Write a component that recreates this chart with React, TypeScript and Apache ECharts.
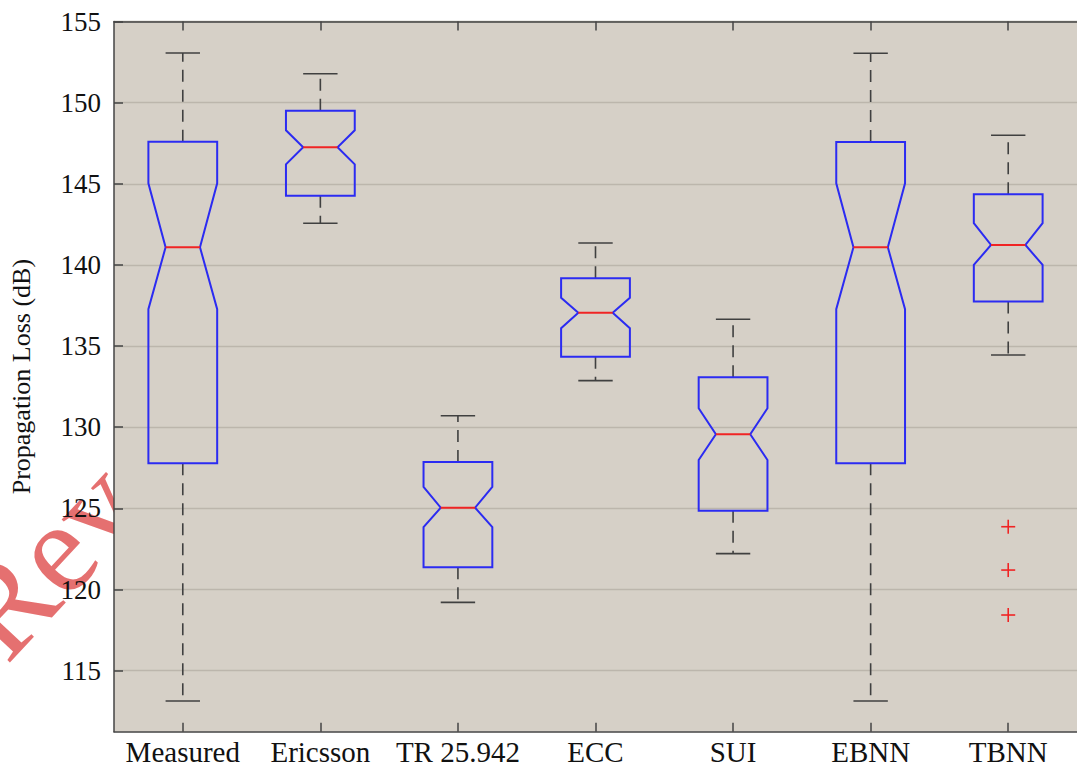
import React, { useEffect, useRef } from "react";
import * as echarts from "echarts";

const categories = ["Measured", "Ericsson", "TR 25.942", "ECC", "SUI", "EBNN", "TBNN"];
const lowerWhisker = [113.13, 142.57, 119.21, 132.87, 122.21, 113.13, 134.45];
const q1 = [127.78, 144.27, 121.37, 134.35, 124.86, 127.78, 137.74];
const notchLow = [137.27, 146.2, 123.84, 136.1, 127.98, 137.27, 140.0];
const median = [141.09, 147.25, 125.04, 137.06, 129.57, 141.09, 141.23];
const notchHigh = [145.03, 148.3, 126.32, 137.98, 131.17, 145.03, 142.57];
const q3 = [147.59, 149.5, 127.86, 139.18, 133.08, 147.58, 144.35];
const upperWhisker = [153.06, 151.78, 130.71, 141.35, 136.65, 153.04, 147.99];
const outlierCategory = ["TBNN", "TBNN", "TBNN"];
const outlierValues = [123.87, 121.2, 118.43];
const yTicks = [115, 120, 125, 130, 135, 140, 145, 150, 155];
const yMin = 111.24;
const yMax = 155;

const FONT = '"Liberation Serif", "Times New Roman", serif';
const BLUE = "#2b2bf2";
const RED = "#f02424";
const WHISKER = "#404040";
const AXIS = "#444444";

export default function App() {
  const ref = useRef<HTMLDivElement>(null);
  useEffect(() => {
    if (!ref.current) return;
    const chart = echarts.init(ref.current, undefined, { renderer: "svg" });
    const boxData = categories.map((_, i) => [
      i,
      lowerWhisker[i],
      q1[i],
      notchLow[i],
      median[i],
      notchHigh[i],
      q3[i],
      upperWhisker[i],
    ]);
    const outData = outlierCategory.map((c, k) => [categories.indexOf(c), outlierValues[k]]);

    const option: any = {
      animation: false,
      backgroundColor: "#ffffff",
      graphic: [
        {
          type: "text",
          z: -10,
          x: 22,
          y: 680,
          rotation: (47 * Math.PI) / 180,
          style: {
            text: "Rev",
            font: `130px ${FONT}`,
            fill: "rgba(226,96,96,0.9)",
            verticalAlign: "bottom",
          },
        },
      ],
      grid: {
        left: 113,
        top: 21.5,
        width: 971.6,
        height: 710.2,
        show: true,
        backgroundColor: "#d6d0c7",
        borderWidth: 0,
      },
      xAxis: [
        {
          type: "category",
          data: categories,
          position: "bottom",
          boundaryGap: true,
          axisLine: { show: true, lineStyle: { color: AXIS, width: 1.5 } },
          axisTick: { show: true, inside: true, length: 9, alignWithLabel: true, interval: 0, lineStyle: { color: AXIS, width: 1.5 } },
          axisLabel: { show: true, interval: 0, fontFamily: FONT, fontSize: 29, color: "#111", margin: 6 },
          splitLine: { show: false },
        },
        {
          type: "category",
          data: categories,
          position: "top",
          boundaryGap: true,
          axisLine: { show: true, lineStyle: { color: AXIS, width: 1.5 } },
          axisTick: { show: true, inside: true, length: 9, alignWithLabel: true, interval: 0, lineStyle: { color: AXIS, width: 1.5 } },
          axisLabel: { show: false },
          splitLine: { show: false },
        },
      ],
      yAxis: {
        type: "value",
        min: yMin,
        max: yMax,
        name: "Propagation Loss (dB)",
        nameLocation: "middle",
        nameGap: 80,
        nameTextStyle: { fontFamily: FONT, fontSize: 26, color: "#111" },
        axisLine: { show: true, lineStyle: { color: AXIS, width: 1.5 } },
        axisTick: { show: true, inside: true, length: 9, customValues: yTicks, lineStyle: { color: AXIS, width: 1.5 } },
        axisLabel: { show: true, customValues: yTicks, fontFamily: FONT, fontSize: 27, color: "#111", margin: 13 },
        splitLine: { show: true, lineStyle: { color: "#bcb6ac", width: 1.3 } },
      },
      series: [
        {
          type: "custom",
          xAxisIndex: 0,
          yAxisIndex: 0,
          encode: { x: 0, y: [1, 2, 3, 4, 5, 6, 7] },
          data: boxData,
          z: 3,
          renderItem: (params: any, api: any) => {
            const i = api.value(0);
            const y = (k: number) => api.coord([i, api.value(k)])[1];
            const cx = api.coord([i, api.value(4)])[0];
            const band = api.size([1, 0])[0];
            const hw = band * 0.25;
            const nw = hw * 0.5;
            const cw = band * 0.125;
            const yLo = y(1), yQ1 = y(2), yNL = y(3), yMed = y(4), yNH = y(5), yQ3 = y(6), yHi = y(7);
            const L = cx - hw, R = cx + hw;
            const dash = { stroke: WHISKER, lineWidth: 1.6, lineDash: [12, 8] };
            const solid = { stroke: WHISKER, lineWidth: 1.6 };
            return {
              type: "group",
              children: [
                { type: "line", shape: { x1: cx, y1: yQ3, x2: cx, y2: yHi }, style: dash },
                { type: "line", shape: { x1: cx, y1: yQ1, x2: cx, y2: yLo }, style: dash },
                { type: "line", shape: { x1: cx - cw, y1: yHi, x2: cx + cw, y2: yHi }, style: solid },
                { type: "line", shape: { x1: cx - cw, y1: yLo, x2: cx + cw, y2: yLo }, style: solid },
                {
                  type: "polygon",
                  shape: {
                    points: [
                      [L, yQ3], [R, yQ3], [R, yNH], [cx + nw, yMed], [R, yNL],
                      [R, yQ1], [L, yQ1], [L, yNL], [cx - nw, yMed], [L, yNH],
                    ],
                  },
                  style: { fill: "none", stroke: BLUE, lineWidth: 2, lineJoin: "miter" },
                },
                { type: "line", shape: { x1: cx - nw, y1: yMed, x2: cx + nw, y2: yMed }, style: { stroke: RED, lineWidth: 2 } },
              ],
            };
          },
        },
        {
          type: "custom",
          xAxisIndex: 0,
          yAxisIndex: 0,
          encode: { x: 0, y: 1 },
          data: outData,
          z: 4,
          renderItem: (params: any, api: any) => {
            const p = api.coord([api.value(0), api.value(1)]);
            const s = 7;
            const st = { stroke: RED, lineWidth: 1.6 };
            return {
              type: "group",
              children: [
                { type: "line", shape: { x1: p[0] - s, y1: p[1], x2: p[0] + s, y2: p[1] }, style: st },
                { type: "line", shape: { x1: p[0], y1: p[1] - s, x2: p[0], y2: p[1] + s }, style: st },
              ],
            };
          },
        },
      ],
    };
    chart.setOption(option);
    return () => chart.dispose();
  }, []);
  return (
    <div
      ref={ref}
      style={{ position: "fixed", left: 0, top: 0, width: 1077, height: 769, overflow: "hidden" }}
    />
  );
}
